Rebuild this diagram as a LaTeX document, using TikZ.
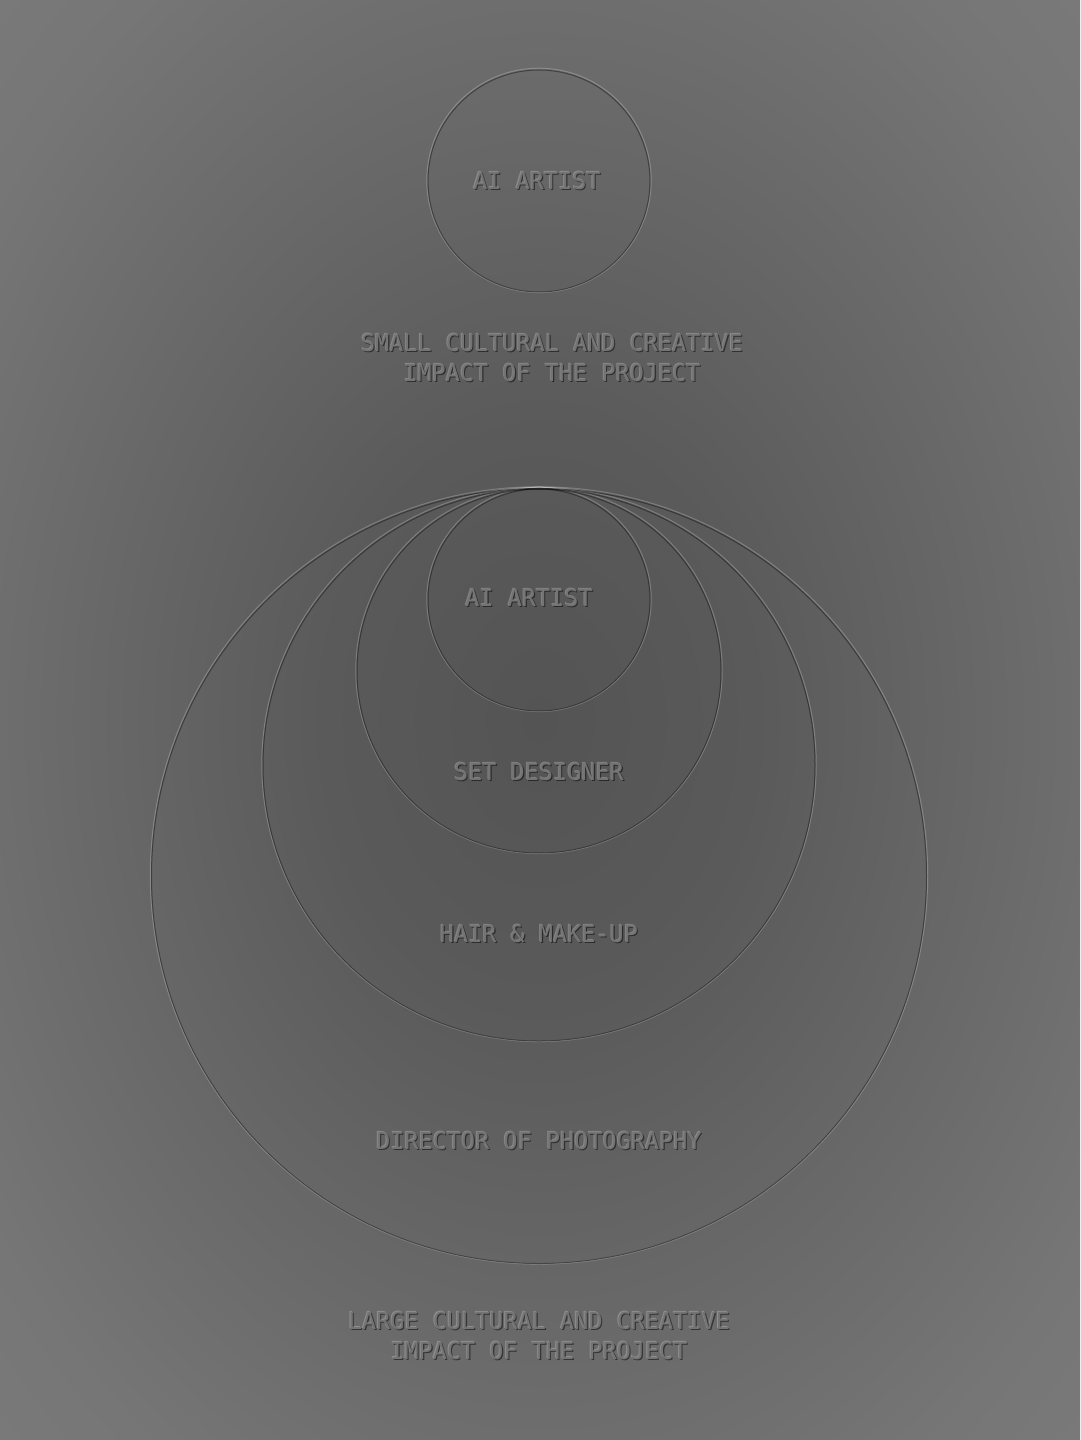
\documentclass[tikz,border=0pt]{standalone}
\usepackage{fontspec}
\newfontfamily\embfont{DejaVu Sans Mono}
\definecolor{bgc}{HTML}{545454}
\definecolor{bgm}{HTML}{5A5A5A}
\definecolor{bge}{HTML}{767676}
\definecolor{bgk}{HTML}{838383}
\definecolor{face}{HTML}{747474}
\pgfdeclareradialshading{bgshade}{\pgfpoint{0bp}{0bp}}{color(0bp)=(bgc); color(10bp)=(bgm); color(31bp)=(bge); color(50bp)=(bgk)}
\tikzset{
  lbl/.style={font=\embfont\fontsize{23.5}{30}\selectfont, align=center, inner sep=0pt, text=face},
  lblhi/.style={lbl, text=white, text opacity=0.25},
  lblsh/.style={lbl, text=black, text opacity=0.5},
  ringsh/.style={draw=black, draw opacity=0.38, line width=1pt},
  ringhi/.style={draw=white, draw opacity=0.22, line width=1pt},
}
\newcommand\emblabel[4]{%
  \node[lblhi] at (#2-0.9,#3-0.9) {#4};
  \node[lblsh] at (#2+1.1,#3+1.1) {#4};
  \node[lbl] (#1) at (#2,#3) {#4};
}
\newcommand\embring[2]{%
  \draw[ringhi] ([yshift=0.6pt]#1) circle[radius=#2+1.2];
  \draw[ringsh] (#1) circle[radius=#2];
}
\begin{document}
\begin{tikzpicture}[x=1pt,y=-1pt]
\useasboundingbox (0,0) rectangle (1080,1440);
\shade[shading=bgshade] (0,0) rectangle (1080,1440);
% centres
\coordinate (ctop) at (539,181);
\coordinate (c1) at (539,600);
\coordinate (c2) at (539,671);
\coordinate (c3) at (539,765);
\coordinate (c4) at (539,876);
\embring{ctop}{111}
\embring{c1}{111}
\embring{c2}{182}
\embring{c3}{276}
\embring{c4}{387.5}
\emblabel{ai1}{537}{181}{AI ARTIST}
\emblabel{small}{552}{358}{SMALL CULTURAL AND CREATIVE\\IMPACT OF THE PROJECT}
\emblabel{ai2}{529}{598}{AI ARTIST}
\emblabel{set}{539}{772}{SET DESIGNER}
\emblabel{hair}{539}{934}{HAIR \& MAKE-UP}
\emblabel{dop}{539}{1141}{DIRECTOR OF PHOTOGRAPHY}
\emblabel{large}{539}{1336}{LARGE CULTURAL AND CREATIVE\\IMPACT OF THE PROJECT}
\end{tikzpicture}
\end{document}
